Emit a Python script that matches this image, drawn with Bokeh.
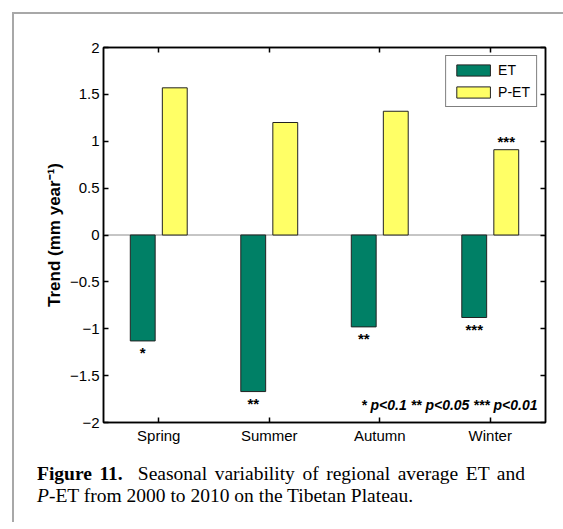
from bokeh.plotting import figure
from bokeh.models import (ColumnDataSource, FixedTicker, LinearAxis, Span, Label,
                          Range1d, Div, InlineStyleSheet)
from bokeh.layouts import column
from bokeh.transform import dodge
from bokeh.core.properties import value
from bokeh.embed import file_html
from bokeh.resources import INLINE

# ---------------- data ----------------
seasons = ["Spring", "Summer", "Autumn", "Winter"]
season_pos = [1, 2, 3, 4]
et_trend = [-1.13, -1.67, -0.98, -0.88]
pet_trend = [1.57, 1.20, 1.32, 0.91]
et_sig = ["*", "**", "**", "***"]
pet_sig = ["", "", "", "***"]
y_ticks = [-2, -1.5, -1, -0.5, 0, 0.5, 1, 1.5, 2]
y_tick_labels = ["\u22122", "\u22121.5", "\u22121", "\u22120.5", "0", "0.5", "1", "1.5", "2"]
legend_labels = ["ET", "P-ET"]
sig_note = "* p<0.1 ** p<0.05 *** p<0.01"

ET_COLOR = "#008066"
PET_COLOR = "#FFFF66"

XMIN, XMAX, YMIN, YMAX = 0.5, 4.5, -2, 2
# desired frame position in page pixels
FR_L, FR_R, FR_T, FR_B = 103, 545, 48, 423
# figure origin on the page (column margin + border)
OX, OY = 14, 15
W = 548
H = FR_B - OY + 30


def px_x(px):
    return XMIN + (px - FR_L) / (FR_R - FR_L) * (XMAX - XMIN)


def px_y(py):
    return YMAX - (py - FR_T) / (FR_B - FR_T) * (YMAX - YMIN)


src = ColumnDataSource(dict(x=season_pos, et=et_trend, pet=pet_trend,
                            et_sig=et_sig, pet_sig=pet_sig))

p = figure(width=W, height=H, x_range=Range1d(XMIN, XMAX), y_range=Range1d(YMIN, YMAX),
           output_backend="svg", toolbar_location=None,
           min_border_left=FR_L - OX, min_border_right=OX + W - FR_R,
           min_border_top=FR_T - OY, min_border_bottom=OY + H - FR_B)
p.background_fill_color = "white"
p.border_fill_color = "white"
p.outline_line_color = "black"
p.outline_line_width = 1.5
p.xgrid.visible = False
p.ygrid.visible = False

FONT = "Liberation Sans"

# zero baseline
p.add_layout(Span(location=0, dimension="width", line_color="#8c8c8c", line_width=1,
                  level="underlay"))

OFF = 0.145
BW = 0.225
p.vbar(x=dodge("x", -OFF, range=p.x_range), top="et", bottom=0, width=BW, source=src,
       fill_color=ET_COLOR, line_color="#222222", line_width=1, legend_label=legend_labels[0])
p.vbar(x=dodge("x", OFF, range=p.x_range), top="pet", bottom=0, width=BW, source=src,
       fill_color=PET_COLOR, line_color="#222222", line_width=1, legend_label=legend_labels[1])

# significance stars
p.text(x=dodge("x", -OFF, range=p.x_range), y="et", text="et_sig", source=src,
       text_align="center", text_baseline="top", y_offset=3,
       text_font=value(FONT), text_font_style="bold", text_font_size="15px",
       text_color="black")
p.text(x=dodge("x", OFF, range=p.x_range), y="pet", text="pet_sig", source=src,
       text_align="center", text_baseline="bottom", y_offset=0,
       text_font=value(FONT), text_font_style="bold", text_font_size="15px",
       text_color="black")

# axes
xax = p.xaxis[0]
xax.ticker = FixedTicker(ticks=season_pos)
xax.major_label_overrides = {k: v for k, v in zip(season_pos, seasons)}
yax = p.yaxis[0]
yax.ticker = FixedTicker(ticks=y_ticks)
yax.major_label_overrides = {float(k): v for k, v in zip(y_ticks, y_tick_labels)}
yax.axis_label = "Trend (mm year\u207b\u00b9)"
yax.axis_label_text_font = FONT
yax.axis_label_text_font_style = "bold"
yax.axis_label_text_font_size = "17px"
yax.axis_label_text_color = "black"
yax.axis_label_standoff = 3

for ax in (xax, yax):
    ax.major_tick_in = 5
    ax.major_tick_out = 0
    ax.minor_tick_line_color = None
    ax.axis_line_width = 1.5
    ax.major_tick_line_width = 1.5
    ax.major_label_text_font = FONT
    ax.major_label_text_font_size = "15px"
    ax.major_label_text_color = "black"
    ax.major_label_standoff = 4

top_ax = LinearAxis(ticker=FixedTicker(ticks=season_pos),
                    major_label_overrides={k: "" for k in season_pos})
right_ax = LinearAxis(ticker=FixedTicker(ticks=y_ticks),
                      major_label_overrides={float(k): "" for k in y_ticks})
for ax in (top_ax, right_ax):
    ax.major_tick_in = 5
    ax.major_tick_out = 0
    ax.minor_tick_line_color = None
    ax.axis_line_width = 1.5
    ax.major_tick_line_width = 1.5
    ax.major_label_text_font_size = "1px"
    ax.major_label_standoff = 0
p.add_layout(top_ax, "above")
p.add_layout(right_ax, "right")

# legend
lg = p.legend[0]
lg.location = "top_right"
lg.margin = 8
lg.border_line_color = "black"
lg.border_line_width = 1
lg.label_text_font = FONT
lg.label_text_font_size = "14px"
lg.label_text_color = "black"
lg.glyph_width = 42
lg.glyph_height = 14
lg.label_height = 14
lg.spacing = 6
lg.padding = 6
lg.label_standoff = 4
lg.background_fill_color = "white"

# p-value note
p.add_layout(Label(x=px_x(537), y=px_y(405), text=sig_note,
                   text_align="right", text_baseline="middle", text_font=FONT,
                   text_font_style="bold italic", text_font_size="14px",
                   text_color="black"))

# caption
cap_html = (
    '<div style="margin-left:18px; width:488px; font-family:\'Liberation Serif\'; '
    'font-size:19.5px; line-height:22px; color:black;">'
    '<div style="text-align:justify; text-align-last:justify;">'
    '<b>Figure 11.</b>&nbsp; Seasonal variability of regional average ET and</div>'
    '<div><i>P</i>-ET from 2000 to 2010 on the Tibetan Plateau.</div></div>'
)
cap = Div(text=cap_html, width=W, height=60,
          styles={"padding-top": "6px"})

frame_css = InlineStyleSheet(css=":host { border-left: 2px solid #a8a8a8; "
                                 "border-top: 2px solid #a8a8a8; }")
layout = column(p, cap, margin=(12, 0, 0, 12), spacing=0, stylesheets=[frame_css])

open("out.html", "w").write(file_html(layout, INLINE))
